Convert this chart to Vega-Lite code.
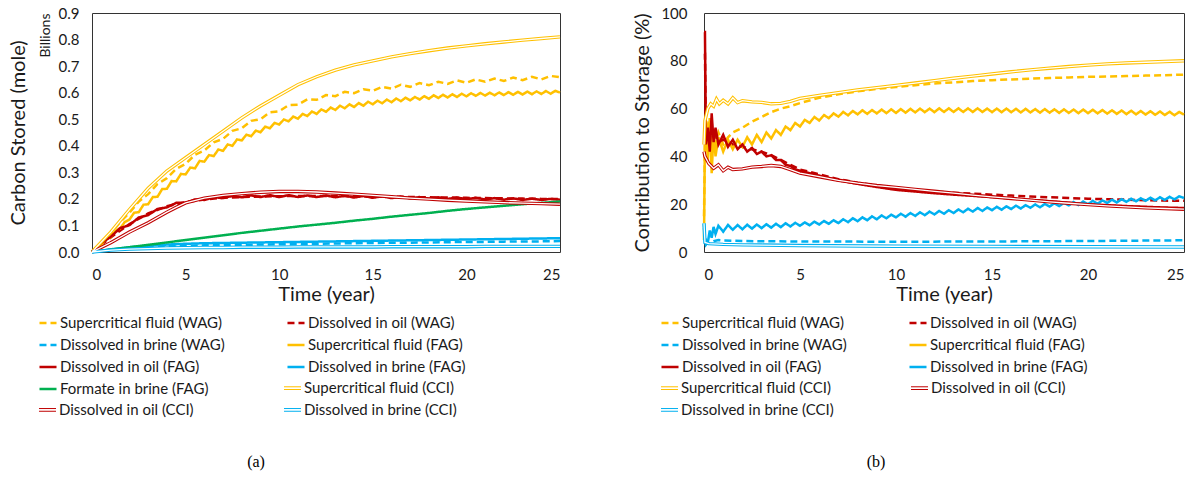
{
  "$schema": "https://vega.github.io/schema/vega-lite/v6.json",
  "padding": {"left": 7, "top": 5, "right": 0, "bottom": 0},
  "background": "white",
  "config": {
    "view": {"stroke": "#333333", "strokeWidth": 1},
    "font": "Lato",
    "axis": {"labelFont": "Lato", "titleFont": "Lato", "labelFontSize": 15, "titleFontSize": 20, "titleFontWeight": "normal", "labelColor": "#1a1a1a", "titleColor": "#1a1a1a", "grid": false, "ticks": false, "domain": false},
    "legend": {"labelFont": "Lato", "labelFontSize": 15, "labelColor": "#1a1a1a", "padding": 0, "offset": 0}
  },
  "spacing": 64,
  "resolve": {"scale": {"color": "independent", "stroke": "independent", "strokeDash": "independent"}, "legend": {"color": "independent", "stroke": "independent", "strokeDash": "independent"}},
  "datasets": {
    "names": [
      {"k": "sfW", "name": "Supercritical fluid (WAG)"},
      {"k": "oilW", "name": "Dissolved in oil (WAG)"},
      {"k": "brW", "name": "Dissolved in brine (WAG)"},
      {"k": "sfF", "name": "Supercritical fluid (FAG)"},
      {"k": "oilF", "name": "Dissolved in oil (FAG)"},
      {"k": "brF", "name": "Dissolved in brine (FAG)"},
      {"k": "fmF", "name": "Formate in brine (FAG)"},
      {"k": "sfC", "name": "Supercritical fluid (CCI)"},
      {"k": "oilC", "name": "Dissolved in oil (CCI)"},
      {"k": "brC", "name": "Dissolved in brine (CCI)"}
    ],
    "a": [
      {"t": 0, "sfW": 0, "oilW": 0, "brW": 0, "sfF": 0, "oilF": 0, "brF": 0, "fmF": 0, "sfC": 0, "oilC": 0, "brC": 0},
      {"t": 0.25, "sfF": 0.018},
      {"t": 0.5, "sfF": 0.026, "sfW": 0.035, "oilF": 0.034},
      {"t": 0.75, "sfF": 0.05},
      {"t": 1, "sfF": 0.055, "sfW": 0.068, "oilF": 0.057, "oilW": 0.055, "brW": 0.008, "brF": 0.01, "fmF": 0.009, "sfC": 0.075, "oilC": 0.035, "brC": 0.007},
      {"t": 1.25, "sfF": 0.08},
      {"t": 1.5, "sfF": 0.088, "sfW": 0.113, "oilF": 0.09},
      {"t": 1.75, "sfF": 0.113},
      {"t": 2, "sfF": 0.122, "sfW": 0.148, "oilF": 0.101, "oilW": 0.105, "brW": 0.014, "brF": 0.018, "fmF": 0.018, "sfC": 0.16, "oilC": 0.075, "brC": 0.011},
      {"t": 2.25, "sfF": 0.148},
      {"t": 2.5, "sfF": 0.15, "sfW": 0.19, "oilF": 0.13},
      {"t": 2.75, "sfF": 0.178},
      {"t": 3, "sfF": 0.18, "sfW": 0.218, "oilF": 0.139, "oilW": 0.145, "brW": 0.018, "brF": 0.024, "fmF": 0.027, "sfC": 0.24, "oilC": 0.11, "brC": 0.013},
      {"t": 3.25, "sfF": 0.207},
      {"t": 3.5, "sfF": 0.208, "sfW": 0.256, "oilF": 0.162},
      {"t": 3.75, "sfF": 0.237},
      {"t": 4, "sfF": 0.238, "sfW": 0.278, "oilF": 0.168, "oilW": 0.172, "brW": 0.021, "brF": 0.028, "fmF": 0.036, "sfC": 0.305, "oilC": 0.15, "brC": 0.015},
      {"t": 4.25, "sfF": 0.267},
      {"t": 4.5, "sfF": 0.266, "sfW": 0.313, "oilF": 0.185, "oilC": 0.168},
      {"t": 4.75, "sfF": 0.294},
      {"t": 5, "sfF": 0.292, "sfW": 0.332, "oilF": 0.185, "oilW": 0.188, "brW": 0.023, "brF": 0.031, "fmF": 0.045, "sfC": 0.355, "oilC": 0.185, "brC": 0.016},
      {"t": 5.25, "sfF": 0.318},
      {"t": 5.5, "sfF": 0.315, "sfW": 0.366, "oilF": 0.198},
      {"t": 5.75, "sfF": 0.343},
      {"t": 6, "sfF": 0.34, "sfW": 0.382, "oilF": 0.196, "oilW": 0.198, "brW": 0.025, "brF": 0.033, "fmF": 0.054, "sfC": 0.405, "oilC": 0.203, "brC": 0.017},
      {"t": 6.25, "sfF": 0.365},
      {"t": 6.5, "sfF": 0.361, "sfW": 0.413, "oilF": 0.206},
      {"t": 6.75, "sfF": 0.386},
      {"t": 7, "sfF": 0.381, "sfW": 0.426, "oilF": 0.203, "oilW": 0.204, "brW": 0.026, "brF": 0.034, "fmF": 0.063, "sfC": 0.455, "oilC": 0.213, "brC": 0.017},
      {"t": 7.25, "sfF": 0.405},
      {"t": 7.5, "sfF": 0.4, "sfW": 0.456, "oilF": 0.211},
      {"t": 7.75, "sfF": 0.424},
      {"t": 8, "sfF": 0.42, "sfW": 0.466, "oilF": 0.206, "oilW": 0.207, "brW": 0.027, "brF": 0.035, "fmF": 0.072, "sfC": 0.505, "oilC": 0.22, "brC": 0.018},
      {"t": 8.25, "sfF": 0.442},
      {"t": 8.5, "sfF": 0.436, "sfW": 0.494, "oilF": 0.213},
      {"t": 8.75, "sfF": 0.457},
      {"t": 9, "sfF": 0.451, "sfW": 0.5, "oilF": 0.207, "oilW": 0.209, "brW": 0.028, "brF": 0.036, "fmF": 0.08, "sfC": 0.55, "oilC": 0.225, "brC": 0.018},
      {"t": 9.25, "sfF": 0.472},
      {"t": 9.5, "sfF": 0.466, "sfW": 0.526, "oilF": 0.214},
      {"t": 9.75, "sfF": 0.486},
      {"t": 10, "sfF": 0.48, "sfW": 0.53, "oilF": 0.207, "oilW": 0.21, "brW": 0.029, "brF": 0.037, "fmF": 0.088, "sfC": 0.59, "oilC": 0.228, "brC": 0.018},
      {"t": 10.25, "sfF": 0.499},
      {"t": 10.5, "sfF": 0.492, "sfW": 0.553, "oilF": 0.214},
      {"t": 10.75, "sfF": 0.51},
      {"t": 11, "sfF": 0.502, "sfW": 0.555, "oilF": 0.207, "oilW": 0.211, "brW": 0.03, "brF": 0.038, "fmF": 0.096, "sfC": 0.63, "oilC": 0.228, "brC": 0.019},
      {"t": 11.25, "sfF": 0.52},
      {"t": 11.5, "sfF": 0.512, "sfW": 0.575, "oilF": 0.213},
      {"t": 11.75, "sfF": 0.529},
      {"t": 12, "sfF": 0.52, "sfW": 0.573, "oilF": 0.207, "oilW": 0.211, "brW": 0.031, "brF": 0.039, "fmF": 0.103, "sfC": 0.66, "oilC": 0.226, "brC": 0.019},
      {"t": 12.25, "sfF": 0.537},
      {"t": 12.5, "sfF": 0.528, "sfW": 0.591, "oilF": 0.213},
      {"t": 12.75, "sfF": 0.544},
      {"t": 13, "sfF": 0.535, "sfW": 0.587, "oilF": 0.206, "oilW": 0.211, "brW": 0.032, "brF": 0.04, "fmF": 0.11, "sfC": 0.685, "oilC": 0.222, "brC": 0.019},
      {"t": 13.25, "sfF": 0.551},
      {"t": 13.5, "sfF": 0.541, "sfW": 0.603, "oilF": 0.212},
      {"t": 13.75, "sfF": 0.556},
      {"t": 14, "sfF": 0.546, "sfW": 0.598, "oilF": 0.205, "oilW": 0.21, "brW": 0.033, "brF": 0.041, "fmF": 0.118, "sfC": 0.705, "oilC": 0.218, "brC": 0.019},
      {"t": 14.25, "sfF": 0.561},
      {"t": 14.5, "sfF": 0.551, "sfW": 0.613, "oilF": 0.211},
      {"t": 14.75, "sfF": 0.566},
      {"t": 15, "sfF": 0.556, "sfW": 0.607, "oilF": 0.204, "oilW": 0.209, "brW": 0.034, "brF": 0.042, "fmF": 0.125, "sfC": 0.72, "oilC": 0.213, "brC": 0.019},
      {"t": 15.25, "sfF": 0.57},
      {"t": 15.5, "sfF": 0.56, "sfW": 0.622, "oilF": 0.21},
      {"t": 15.75, "sfF": 0.574},
      {"t": 16, "sfF": 0.564, "sfW": 0.615, "oilF": 0.203, "oilW": 0.208, "brW": 0.035, "brF": 0.043, "fmF": 0.133, "sfC": 0.735, "oilC": 0.208, "brC": 0.02},
      {"t": 16.25, "sfF": 0.578},
      {"t": 16.5, "sfF": 0.568, "sfW": 0.63, "oilF": 0.209},
      {"t": 16.75, "sfF": 0.581},
      {"t": 17, "sfF": 0.571, "sfW": 0.622, "oilF": 0.202, "oilW": 0.207, "brW": 0.035, "brF": 0.044, "fmF": 0.14, "sfC": 0.747, "oilC": 0.203, "brC": 0.02},
      {"t": 17.25, "sfF": 0.584},
      {"t": 17.5, "sfF": 0.574, "sfW": 0.636, "oilF": 0.207},
      {"t": 17.75, "sfF": 0.587},
      {"t": 18, "sfF": 0.577, "sfW": 0.628, "oilF": 0.201, "oilW": 0.206, "brW": 0.036, "brF": 0.045, "fmF": 0.147, "sfC": 0.758, "oilC": 0.199, "brC": 0.02},
      {"t": 18.25, "sfF": 0.59},
      {"t": 18.5, "sfF": 0.58, "sfW": 0.641, "oilF": 0.206},
      {"t": 18.75, "sfF": 0.592},
      {"t": 19, "sfF": 0.582, "sfW": 0.633, "oilF": 0.2, "oilW": 0.205, "brW": 0.037, "brF": 0.046, "fmF": 0.155, "sfC": 0.768, "oilC": 0.195, "brC": 0.02},
      {"t": 19.25, "sfF": 0.594},
      {"t": 19.5, "sfF": 0.584, "sfW": 0.646, "oilF": 0.205},
      {"t": 19.75, "sfF": 0.596},
      {"t": 20, "sfF": 0.586, "sfW": 0.637, "oilF": 0.199, "oilW": 0.204, "brW": 0.038, "brF": 0.047, "fmF": 0.162, "sfC": 0.776, "oilC": 0.192, "brC": 0.02},
      {"t": 20.25, "sfF": 0.598},
      {"t": 20.5, "sfF": 0.588, "sfW": 0.65, "oilF": 0.204},
      {"t": 20.75, "sfF": 0.599},
      {"t": 21, "sfF": 0.589, "sfW": 0.641, "oilF": 0.198, "oilW": 0.203, "brW": 0.038, "brF": 0.048, "fmF": 0.168, "sfC": 0.784, "oilC": 0.189, "brC": 0.021},
      {"t": 21.25, "sfF": 0.6},
      {"t": 21.5, "sfF": 0.59, "sfW": 0.653, "oilF": 0.203},
      {"t": 21.75, "sfF": 0.601},
      {"t": 22, "sfF": 0.591, "sfW": 0.644, "oilF": 0.197, "oilW": 0.202, "brW": 0.039, "brF": 0.049, "fmF": 0.174, "sfC": 0.791, "oilC": 0.186, "brC": 0.021},
      {"t": 22.25, "sfF": 0.602},
      {"t": 22.5, "sfF": 0.592, "sfW": 0.657, "oilF": 0.202},
      {"t": 22.75, "sfF": 0.603},
      {"t": 23, "sfF": 0.593, "sfW": 0.647, "oilF": 0.196, "oilW": 0.201, "brW": 0.04, "brF": 0.05, "fmF": 0.18, "sfC": 0.798, "oilC": 0.184, "brC": 0.021},
      {"t": 23.25, "sfF": 0.604},
      {"t": 23.5, "sfF": 0.594, "sfW": 0.66, "oilF": 0.201},
      {"t": 23.75, "sfF": 0.605},
      {"t": 24, "sfF": 0.595, "sfW": 0.65, "oilF": 0.196, "oilW": 0.2, "brW": 0.04, "brF": 0.051, "fmF": 0.185, "sfC": 0.804, "oilC": 0.182, "brC": 0.021},
      {"t": 24.25, "sfF": 0.606},
      {"t": 24.5, "sfF": 0.596, "sfW": 0.663, "oilF": 0.2},
      {"t": 24.75, "sfF": 0.607},
      {"t": 25, "sfF": 0.6, "sfW": 0.658, "oilF": 0.197, "oilW": 0.2, "brW": 0.041, "brF": 0.052, "fmF": 0.19, "sfC": 0.81, "oilC": 0.18, "brC": 0.021}
    ],
    "b": [
      {"t": 0, "sfW": 15, "oilW": 83, "brW": 10, "sfF": 5, "oilF": 92, "brF": 12, "sfC": 45, "oilC": 42, "brC": 12},
      {"t": 0.05, "sfW": 45, "oilW": 83, "brW": 6, "sfF": 50, "oilF": 92, "brF": 5, "sfC": 55, "oilC": 40, "brC": 4},
      {"t": 0.1, "oilW": 48, "sfF": 55, "oilF": 45, "brF": 3},
      {"t": 0.2, "sfF": 38, "oilF": 52, "brF": 4, "sfC": 60},
      {"t": 0.25, "sfW": 55, "oilW": 44, "brW": 3.5, "oilC": 37, "brC": 3.5},
      {"t": 0.3, "sfF": 56, "oilF": 42, "brF": 9},
      {"t": 0.35, "sfC": 62},
      {"t": 0.4, "sfF": 33, "oilF": 58, "brF": 6},
      {"t": 0.5, "sfW": 42, "oilW": 50, "brW": 4.5, "sfF": 50, "oilF": 46, "brF": 10.5, "sfC": 61, "oilC": 35},
      {"t": 0.6, "sfF": 40, "oilF": 52, "brF": 7.5},
      {"t": 0.65, "sfC": 64},
      {"t": 0.75, "sfW": 50, "oilW": 46, "brW": 5, "sfF": 48, "oilF": 45, "brF": 11, "oilC": 36.5},
      {"t": 0.8, "sfC": 62},
      {"t": 1, "sfW": 45, "oilW": 47, "brW": 4.8, "sfF": 42, "oilF": 49, "brF": 8.5, "sfC": 63.5, "oilC": 34, "brC": 3.2},
      {"t": 1.25, "sfW": 48, "sfF": 47, "oilF": 44, "brF": 11.3, "sfC": 62, "oilC": 35.5},
      {"t": 1.5, "sfW": 50, "oilW": 45, "sfF": 43, "oilF": 47, "brF": 9.3, "sfC": 64.5, "oilC": 34.5},
      {"t": 1.75, "sfF": 47, "oilF": 43, "brF": 11.3, "sfC": 62.5},
      {"t": 2, "sfW": 52, "oilW": 44, "brW": 4.6, "sfF": 44, "oilF": 45, "brF": 9.5, "sfC": 63.3, "oilC": 34.8, "brC": 3},
      {"t": 2.25, "sfF": 48, "oilF": 42, "brF": 11.4},
      {"t": 2.5, "sfW": 54.5, "oilW": 43, "sfF": 45, "oilF": 43.5, "brF": 9.8, "sfC": 62.8, "oilC": 35.5},
      {"t": 2.75, "sfF": 49, "oilF": 41, "brF": 11.5},
      {"t": 3, "sfW": 56.5, "oilW": 42, "brW": 4.5, "sfF": 46, "oilF": 42, "brF": 10, "sfC": 62.6, "oilC": 35.8, "brC": 2.9},
      {"t": 3.25, "sfF": 50, "oilF": 40, "brF": 11.6},
      {"t": 3.5, "sfW": 58.5, "oilW": 40.5, "sfF": 47.5, "oilF": 40.5, "brF": 10.2, "sfC": 62, "oilC": 36.2},
      {"t": 3.75, "sfF": 51, "oilF": 38.5, "brF": 11.8},
      {"t": 4, "sfW": 60, "oilW": 38.5, "sfF": 49, "oilF": 38.5, "brF": 10.4, "sfC": 62.2, "oilC": 35.8},
      {"t": 4.25, "sfF": 52.5, "oilF": 36.5, "brF": 12},
      {"t": 4.5, "sfW": 61, "oilW": 36.5, "sfF": 51, "oilF": 36, "brF": 10.7, "sfC": 63, "oilC": 34.5},
      {"t": 4.75, "sfF": 54, "oilF": 34.5, "brF": 12.2},
      {"t": 5, "sfW": 62.3, "oilW": 34.5, "brW": 4.4, "sfF": 52.5, "oilF": 34, "brF": 11, "sfC": 64.3, "oilC": 33, "brC": 2.7},
      {"t": 5.25, "sfF": 55.3, "brF": 12.4},
      {"t": 5.5, "sfF": 54, "oilF": 33, "brF": 11.2},
      {"t": 5.75, "sfF": 56.5, "brF": 12.7},
      {"t": 6, "sfW": 64.5, "oilW": 32.5, "sfF": 55, "oilF": 32, "brF": 11.5, "sfC": 65.5, "oilC": 31.5},
      {"t": 6.25, "sfF": 57.3, "brF": 13},
      {"t": 6.5, "sfF": 56, "brF": 11.8},
      {"t": 6.75, "sfF": 58, "brF": 13.3},
      {"t": 7, "sfW": 66, "oilW": 30.5, "sfF": 56.6, "oilF": 30, "brF": 12.1, "sfC": 66.7, "oilC": 30},
      {"t": 7.25, "sfF": 58.6, "brF": 13.7},
      {"t": 7.5, "sfF": 57.2, "brF": 12.5},
      {"t": 7.75, "sfF": 59, "brF": 14.1},
      {"t": 8, "sfW": 67.2, "oilW": 29, "sfF": 57.6, "oilF": 28.5, "brF": 12.9, "sfC": 67.8, "oilC": 28.8},
      {"t": 8.25, "sfF": 59.3, "brF": 14.5},
      {"t": 8.5, "sfF": 57.8, "brF": 13.3},
      {"t": 8.75, "sfF": 59.4, "brF": 14.9},
      {"t": 9, "sfW": 68.3, "oilW": 27.8, "sfF": 58, "oilF": 27.2, "brF": 13.7, "sfC": 68.8, "oilC": 27.8},
      {"t": 9.25, "sfF": 59.6, "brF": 15.3},
      {"t": 9.5, "sfF": 58.1, "brF": 14.1},
      {"t": 9.75, "sfF": 59.7, "brF": 15.6},
      {"t": 10, "sfW": 69, "oilW": 26.8, "brW": 4.3, "sfF": 58.2, "oilF": 26, "brF": 14.5, "sfC": 69.7, "oilC": 27, "brC": 2.4},
      {"t": 10.25, "sfF": 59.8, "brF": 16},
      {"t": 10.5, "sfF": 58.3, "brF": 14.8},
      {"t": 10.75, "sfF": 59.9, "brF": 16.3},
      {"t": 11, "sfW": 69.8, "oilW": 26, "sfF": 58.4, "oilF": 25.3, "brF": 15.1, "sfC": 70.7, "oilC": 26.2},
      {"t": 11.25, "sfF": 60, "brF": 16.6},
      {"t": 11.5, "sfF": 58.5, "brF": 15.4},
      {"t": 11.75, "sfF": 60, "brF": 16.9},
      {"t": 12, "sfW": 70.5, "oilW": 25.3, "sfF": 58.5, "oilF": 24.6, "brF": 15.7, "sfC": 71.7, "oilC": 25.4},
      {"t": 12.25, "sfF": 60.1, "brF": 17.2},
      {"t": 12.5, "sfF": 58.6, "brF": 16},
      {"t": 12.75, "sfF": 60.1, "brF": 17.5},
      {"t": 13, "sfW": 71, "oilW": 24.8, "sfF": 58.6, "oilF": 24, "brF": 16.3, "sfC": 72.7, "oilC": 24.6},
      {"t": 13.25, "sfF": 60.1, "brF": 17.8},
      {"t": 13.5, "sfF": 58.6, "brF": 16.6},
      {"t": 13.75, "sfF": 60.1, "brF": 18.1},
      {"t": 14, "sfW": 71.5, "oilW": 24.4, "sfF": 58.6, "oilF": 23.5, "brF": 16.9, "sfC": 73.6, "oilC": 23.8},
      {"t": 14.25, "sfF": 60.1, "brF": 18.4},
      {"t": 14.5, "sfF": 58.6, "brF": 17.2},
      {"t": 14.75, "sfF": 60, "brF": 18.6},
      {"t": 15, "sfW": 71.9, "oilW": 24, "brW": 4.4, "sfF": 58.5, "oilF": 23, "brF": 17.5, "sfC": 74.5, "oilC": 23.1, "brC": 2.3},
      {"t": 15.25, "sfF": 60, "brF": 18.9},
      {"t": 15.5, "sfF": 58.5, "brF": 17.7},
      {"t": 15.75, "sfF": 60, "brF": 19.1},
      {"t": 16, "sfW": 72.2, "oilW": 23.6, "sfF": 58.5, "oilF": 22.4, "brF": 18, "sfC": 75.4, "oilC": 22.4},
      {"t": 16.25, "sfF": 59.9, "brF": 19.4},
      {"t": 16.5, "sfF": 58.4, "brF": 18.2},
      {"t": 16.75, "sfF": 59.9, "brF": 19.6},
      {"t": 17, "sfW": 72.5, "oilW": 23.2, "sfF": 58.4, "oilF": 21.8, "brF": 18.5, "sfC": 76.2, "oilC": 21.7},
      {"t": 17.25, "sfF": 59.8, "brF": 19.9},
      {"t": 17.5, "sfF": 58.3, "brF": 18.7},
      {"t": 17.75, "sfF": 59.8, "brF": 20.1},
      {"t": 18, "sfW": 72.8, "oilW": 22.9, "sfF": 58.3, "oilF": 21.2, "brF": 19, "sfC": 76.9, "oilC": 21},
      {"t": 18.25, "sfF": 59.7, "brF": 20.4},
      {"t": 18.5, "sfF": 58.2, "brF": 19.2},
      {"t": 18.75, "sfF": 59.7, "brF": 20.6},
      {"t": 19, "sfW": 73, "oilW": 22.6, "sfF": 58.2, "oilF": 20.6, "brF": 19.5, "sfC": 77.6, "oilC": 20.4},
      {"t": 19.25, "sfF": 59.6, "brF": 20.9},
      {"t": 19.5, "sfF": 58.1, "brF": 19.7},
      {"t": 19.75, "sfF": 59.6, "brF": 21.1},
      {"t": 20, "sfW": 73.3, "oilW": 22.3, "brW": 4.6, "sfF": 58.1, "oilF": 20, "brF": 20, "sfC": 78.2, "oilC": 19.8, "brC": 2.2},
      {"t": 20.25, "sfF": 59.5, "brF": 21.4},
      {"t": 20.5, "sfF": 58, "brF": 20.2},
      {"t": 20.75, "sfF": 59.4, "brF": 21.6},
      {"t": 21, "sfW": 73.4, "oilW": 22.1, "sfF": 57.9, "oilF": 19.6, "brF": 20.5, "sfC": 78.7, "oilC": 19.3},
      {"t": 21.25, "sfF": 59.3, "brF": 21.9},
      {"t": 21.5, "sfF": 57.8, "brF": 20.7},
      {"t": 21.75, "sfF": 59.2, "brF": 22.1},
      {"t": 22, "sfW": 73.6, "oilW": 21.9, "sfF": 57.7, "oilF": 19.2, "brF": 21, "sfC": 79.1, "oilC": 18.9},
      {"t": 22.25, "sfF": 59.1, "brF": 22.3},
      {"t": 22.5, "sfF": 57.6, "brF": 21.2},
      {"t": 22.75, "sfF": 59, "brF": 22.5},
      {"t": 23, "sfW": 73.8, "oilW": 21.7, "sfF": 57.5, "oilF": 18.9, "brF": 21.4, "sfC": 79.4, "oilC": 18.5},
      {"t": 23.25, "sfF": 58.9, "brF": 22.7},
      {"t": 23.5, "sfF": 57.4, "brF": 21.6},
      {"t": 23.75, "sfF": 58.8, "brF": 22.9},
      {"t": 24, "sfW": 74, "oilW": 21.5, "sfF": 57.3, "oilF": 18.6, "brF": 21.8, "sfC": 79.7, "oilC": 18.2},
      {"t": 24.25, "sfF": 58.7, "brF": 23.1},
      {"t": 24.5, "sfF": 57.2, "brF": 22},
      {"t": 24.75, "sfF": 58.6, "brF": 23.3},
      {"t": 25, "sfW": 74.2, "oilW": 21.4, "brW": 4.9, "sfF": 57.5, "oilF": 18.4, "brF": 22.6, "sfC": 80, "oilC": 17.9, "brC": 2.1}
    ]
  },
  "hconcat": [
    {
      "width": 468,
      "height": 239,
      "title": {"text": "(a)", "orient": "bottom", "font": "Liberation Serif", "fontSize": 16, "fontWeight": "normal", "color": "#000000", "anchor": "middle", "frame": "group", "dx": -70, "offset": 36},
      "layer": [
        {
          "data": {"name": "a"},
          "transform": [
            {"fold": ["sfW", "oilW", "brW", "sfF", "oilF", "brF", "fmF", "sfC", "oilC", "brC"], "as": ["key", "v"]},
            {"filter": "isValid(datum.v)"},
            {"lookup": "key", "from": {"data": {"name": "names"}, "key": "k", "fields": ["name"]}}
          ],
          "encoding": {
            "x": {"field": "t", "type": "quantitative", "scale": {"domain": [0, 25], "nice": false}, "axis": {"title": "Time (year)", "values": [0, 5, 10, 15, 20, 25], "labelPadding": 15, "titlePadding": 2}},
            "y": {"field": "v", "type": "quantitative", "scale": {"domain": [0, 0.9], "nice": false}, "axis": {"title": "Carbon Stored (mole)", "values": [0, 0.1, 0.2, 0.3, 0.4, 0.5, 0.6, 0.7, 0.8, 0.9], "format": ".1f", "labelPadding": 13, "titlePadding": 30}}
          },
          "layer": [
            {
              "transform": [{"filter": {"field": "key", "oneOf": ["sfF", "oilF", "brF", "fmF", "sfW", "oilW", "brW"]}}],
              "mark": {"type": "line", "strokeWidth": 2.5},
              "encoding": {
                "color": {
                  "field": "name", "type": "nominal",
                  "scale": {
                    "domain": ["Supercritical fluid (WAG)", "Dissolved in brine (WAG)", "Dissolved in oil (FAG)", "Formate in brine (FAG)", "Dissolved in oil (WAG)", "Supercritical fluid (FAG)", "Dissolved in brine (FAG)"],
                    "range": ["#FFC000", "#00B0F0", "#C00000", "#00B050", "#C00000", "#FFC000", "#00B0F0"]
                  },
                  "legend": {"title": null, "orient": "none", "legendX": -54, "legendY": 300, "columns": 2, "symbolType": "stroke", "symbolSize": 290, "symbolStrokeWidth": 2.5, "labelOffset": 2, "rowPadding": 4, "columnPadding": 57, "labelLimit": 400}
                },
                "strokeDash": {
                  "field": "name", "type": "nominal",
                  "scale": {
                    "domain": ["Supercritical fluid (WAG)", "Dissolved in brine (WAG)", "Dissolved in oil (FAG)", "Formate in brine (FAG)", "Dissolved in oil (WAG)", "Supercritical fluid (FAG)", "Dissolved in brine (FAG)"],
                    "range": [[7, 4], [7, 4], [1, 0], [1, 0], [7, 4], [1, 0], [1, 0]]
                  },
                  "legend": {"title": null, "orient": "none", "legendX": -54, "legendY": 300, "columns": 2, "symbolType": "stroke", "symbolSize": 290, "symbolStrokeWidth": 2.5, "labelOffset": 2, "rowPadding": 4, "columnPadding": 57, "labelLimit": 400}
                }
              }
            },
            {
              "transform": [{"filter": {"field": "key", "oneOf": ["sfC", "oilC", "brC"]}}],
              "mark": {"type": "line", "strokeWidth": 3.4},
              "encoding": {
                "stroke": {
                  "field": "name", "type": "nominal",
                  "scale": {
                    "domain": [" ", "Dissolved in oil (CCI)", "Supercritical fluid (CCI)", "Dissolved in brine (CCI)"],
                    "range": ["transparent", "#C00000", "#FFC000", "#00B0F0"]
                  },
                  "legend": {"title": null, "orient": "none", "legendX": -54, "legendY": 365.4, "columns": 2, "symbolType": "M-1,-0.16H1M-1,0.16H1", "symbolSize": 290, "symbolStrokeWidth": 1, "labelOffset": 2, "rowPadding": 4, "columnPadding": 87, "labelLimit": 400}
                }
              }
            },
            {
              "transform": [{"filter": {"field": "key", "oneOf": ["sfC", "oilC", "brC"]}}],
              "mark": {"type": "line", "strokeWidth": 1.3, "stroke": "white"},
              "encoding": {"detail": {"field": "key"}}
            }
          ]
        },
        {
          "data": {"values": [{"v": 0}]},
          "mark": {"type": "rule", "opacity": 0},
          "encoding": {"y": {"field": "v", "type": "quantitative", "scale": {"domain": [0, 0.9], "nice": false}, "axis": {"orient": "left", "title": "Billions", "titleFontSize": 14, "titleAnchor": "end", "labels": false, "ticks": false, "domain": false, "titlePadding": 40}}}
        }
      ],
      "resolve": {"axis": {"y": "independent"}}
    },
    {
      "width": 480,
      "height": 239,
      "title": {"text": "(b)", "orient": "bottom", "font": "Liberation Serif", "fontSize": 16, "fontWeight": "normal", "color": "#000000", "anchor": "middle", "frame": "group", "dx": -68, "offset": 36},
      "data": {"name": "b"},
      "transform": [
        {"fold": ["sfW", "oilW", "brW", "sfF", "oilF", "brF", "sfC", "oilC", "brC"], "as": ["key", "v"]},
        {"filter": "isValid(datum.v)"},
        {"lookup": "key", "from": {"data": {"name": "names"}, "key": "k", "fields": ["name"]}}
      ],
      "encoding": {
        "x": {"field": "t", "type": "quantitative", "scale": {"domain": [0, 25], "nice": false}, "axis": {"title": "Time (year)", "values": [0, 5, 10, 15, 20, 25], "labelPadding": 15, "titlePadding": 2}},
        "y": {"field": "v", "type": "quantitative", "scale": {"domain": [0, 100], "nice": false}, "axis": {"title": "Contribution to Storage (%)", "values": [0, 20, 40, 60, 80, 100], "labelPadding": 17, "titlePadding": 8}}
      },
      "layer": [
        {
          "transform": [{"filter": {"field": "key", "oneOf": ["sfF", "oilF", "brF", "sfW", "oilW", "brW"]}}],
          "mark": {"type": "line", "strokeWidth": 2.5},
          "encoding": {
            "color": {
              "field": "name", "type": "nominal",
              "scale": {
                "domain": ["Supercritical fluid (WAG)", "Dissolved in brine (WAG)", "Dissolved in oil (FAG)", "Dissolved in oil (WAG)", "Supercritical fluid (FAG)", "Dissolved in brine (FAG)"],
                "range": ["#FFC000", "#00B0F0", "#C00000", "#C00000", "#FFC000", "#00B0F0"]
              },
              "legend": {"title": null, "orient": "none", "legendX": -44, "legendY": 300, "columns": 2, "symbolType": "stroke", "symbolSize": 290, "symbolStrokeWidth": 2.5, "labelOffset": 2, "rowPadding": 4, "columnPadding": 57, "labelLimit": 400}
            },
            "strokeDash": {
              "field": "name", "type": "nominal",
              "scale": {
                "domain": ["Supercritical fluid (WAG)", "Dissolved in brine (WAG)", "Dissolved in oil (FAG)", "Dissolved in oil (WAG)", "Supercritical fluid (FAG)", "Dissolved in brine (FAG)"],
                "range": [[7, 4], [7, 4], [1, 0], [7, 4], [1, 0], [1, 0]]
              },
              "legend": {"title": null, "orient": "none", "legendX": -44, "legendY": 300, "columns": 2, "symbolType": "stroke", "symbolSize": 290, "symbolStrokeWidth": 2.5, "labelOffset": 2, "rowPadding": 4, "columnPadding": 57, "labelLimit": 400}
            }
          }
        },
        {
          "transform": [{"filter": {"field": "key", "oneOf": ["sfC", "oilC", "brC"]}}],
          "mark": {"type": "line", "strokeWidth": 3.4},
          "encoding": {
            "stroke": {
              "field": "name", "type": "nominal",
              "scale": {
                "domain": ["Supercritical fluid (CCI)", "Dissolved in brine (CCI)", "Dissolved in oil (CCI)"],
                "range": ["#FFC000", "#00B0F0", "#C00000"]
              },
              "legend": {"title": null, "orient": "none", "legendX": -44, "legendY": 365.4, "columns": 2, "symbolType": "M-1,-0.16H1M-1,0.16H1", "symbolSize": 290, "symbolStrokeWidth": 1, "labelOffset": 2, "rowPadding": 4, "columnPadding": 74, "labelLimit": 400}
            }
          }
        },
        {
          "transform": [{"filter": {"field": "key", "oneOf": ["sfC", "oilC", "brC"]}}],
          "mark": {"type": "line", "strokeWidth": 1.3, "stroke": "white"},
          "encoding": {"detail": {"field": "key"}}
        }
      ]
    }
  ]
}
